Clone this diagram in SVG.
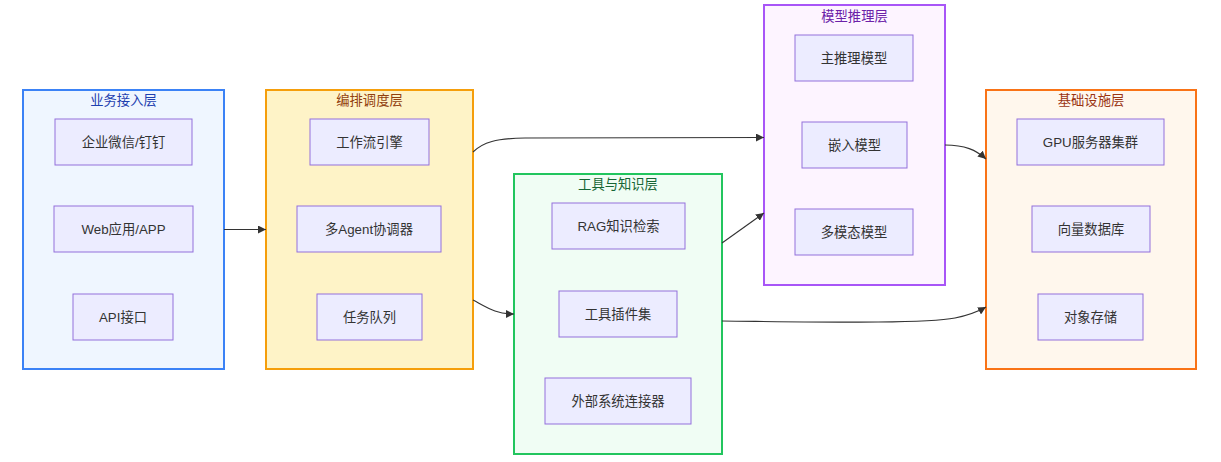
<svg xmlns="http://www.w3.org/2000/svg" width="1221" height="462" viewBox="0 0 1221 462">
<style>
text{font-family:"Liberation Sans","Noto Sans CJK SC",sans-serif;font-size:13.3px;text-anchor:middle}
.n rect{fill:#ececff;stroke:#9370db;stroke-width:1}
.n text{fill:#333}
.c rect{stroke-width:2}
.e path{fill:none;stroke:#333;stroke-width:1.1;marker-end:url(#ah)}
</style>
<defs>
<marker id="ah" viewBox="0 0 10 10" refX="10" refY="5" markerWidth="8" markerHeight="8" markerUnits="userSpaceOnUse" orient="auto">
<path d="M0,0 L10,5 L0,10 z" fill="#333"/>
</marker>
</defs>
<g id="clusters">
<g id="access" class="c"><rect x="23" y="90" width="201" height="279" fill="#eff6ff" stroke="#3b82f6"/><text x="123.5" y="105" fill="#1e40af">业务接入层</text></g>
<g id="orch" class="c"><rect x="266" y="90" width="207" height="279" fill="#fef3c7" stroke="#f59e0b"/><text x="369.5" y="105" fill="#92400e">编排调度层</text></g>
<g id="tools" class="c"><rect x="514" y="174" width="208" height="280" fill="#f0fdf4" stroke="#22c55e"/><text x="618" y="189" fill="#166534">工具与知识层</text></g>
<g id="model" class="c"><rect x="764" y="5" width="181" height="280" fill="#fdf4ff" stroke="#a855f7"/><text x="854.5" y="21" fill="#6b21a8">模型推理层</text></g>
<g id="infra" class="c"><rect x="986" y="90" width="210" height="279" fill="#fff7ed" stroke="#f97316"/><text x="1091" y="105" fill="#9a3412">基础设施层</text></g>
</g>
<g id="edges" class="e">
<path d="M224,229.5 L266,229.5"/>
<path d="M473,152 C483,142 496,138.5 525,138 L764,137.5"/>
<path d="M473,300 C488,308 496,314 514,314"/>
<path d="M722,243 L764,213"/>
<path d="M722,321 C820,322 925,324 955,318 C970,315 979,311 986,307"/>
<path d="M945,145 C965,145 976,150 986,159"/>
</g>
<g id="n_wx" class="n"><rect x="55" y="119" width="137" height="46"/><text x="123.5" y="147">企业微信/钉钉</text></g>
<g id="n_web" class="n"><rect x="54" y="206" width="139" height="46"/><text x="123.5" y="234">Web应用/APP</text></g>
<g id="n_api" class="n"><rect x="73" y="294" width="100" height="46"/><text x="123" y="322">API接口</text></g>
<g id="n_wf" class="n"><rect x="310" y="119" width="119" height="46"/><text x="369.5" y="147">工作流引擎</text></g>
<g id="n_agent" class="n"><rect x="297" y="206" width="144" height="46"/><text x="369" y="234">多Agent协调器</text></g>
<g id="n_queue" class="n"><rect x="317" y="294" width="105" height="46"/><text x="369.5" y="322">任务队列</text></g>
<g id="n_rag" class="n"><rect x="552" y="203" width="133" height="46"/><text x="618.5" y="231">RAG知识检索</text></g>
<g id="n_plugin" class="n"><rect x="559" y="291" width="118" height="46"/><text x="618" y="319">工具插件集</text></g>
<g id="n_ext" class="n"><rect x="545" y="378" width="146" height="46"/><text x="618" y="406">外部系统连接器</text></g>
<g id="n_main" class="n"><rect x="795" y="35" width="118" height="46"/><text x="854" y="63">主推理模型</text></g>
<g id="n_emb" class="n"><rect x="802" y="122" width="105" height="46"/><text x="854.5" y="150">嵌入模型</text></g>
<g id="n_mm" class="n"><rect x="795" y="209" width="118" height="46"/><text x="854" y="237">多模态模型</text></g>
<g id="n_gpu" class="n"><rect x="1017" y="119" width="147" height="46"/><text x="1090.5" y="147">GPU服务器集群</text></g>
<g id="n_vec" class="n"><rect x="1032" y="206" width="118" height="46"/><text x="1091" y="234">向量数据库</text></g>
<g id="n_obj" class="n"><rect x="1038" y="294" width="105" height="46"/><text x="1090.5" y="322">对象存储</text></g>
</svg>
